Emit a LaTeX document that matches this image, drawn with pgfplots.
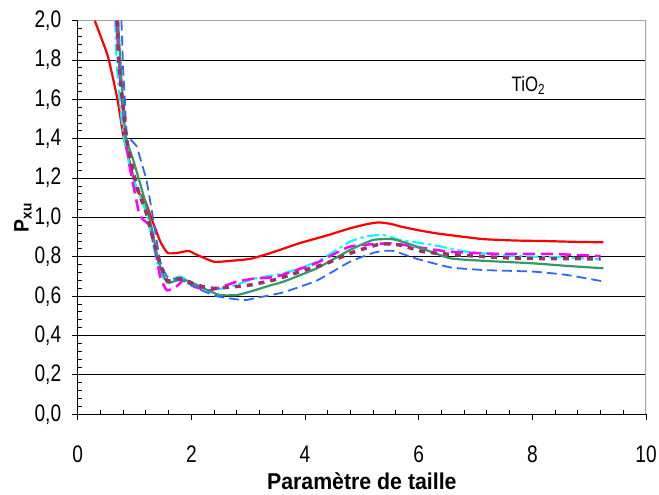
\documentclass[border=0pt]{standalone}
\usepackage{fontspec}
\setmainfont{Liberation Sans}[FakeStretch=0.8]
\newfontfamily\labfont{Liberation Sans}[FakeStretch=0.93]
\usepackage{pgfplots}
\pgfplotsset{compat=1.18}
\definecolor{cRed}{RGB}{255,0,0}
\definecolor{cGreen}{RGB}{51,153,102}
\definecolor{cBlue}{RGB}{51,102,255}
\definecolor{cCyan}{RGB}{0,255,255}
\definecolor{cMag}{RGB}{255,0,255}
\definecolor{cPur}{RGB}{153,51,102}
\begin{document}
\begin{tikzpicture}
\begin{axis}[name=ax, at={(0,0)}, anchor=south west,
  scale only axis, width=568.3bp, height=393.6bp,
  xmin=0, xmax=10, ymin=0, ymax=2,
  axis x line*=bottom, axis y line*=left,
  axis line style={black, line width=1.2bp, -},
  xtick={0,2,...,10}, ytick={0,0.2,...,2.01},
  minor x tick num=4, minor y tick num=4,
  tick align=outside, major tick length=6bp, minor tick length=-4.5bp,
  tick style={black, line width=1bp},
  ymajorgrids, grid style={black, line width=1.1bp},
  /pgf/number format/assume math mode=true,
  yticklabel style={/pgf/number format/fixed, /pgf/number format/fixed zerofill, /pgf/number format/precision=1, /pgf/number format/use comma, xshift=-7bp},
  ticklabel style={font=\fontsize{24}{26}\selectfont},
  xticklabel style={yshift=-22bp},
  xlabel={\labfont\bfseries Paramètre de taille},
  xlabel style={font=\fontsize{23}{25}\selectfont, yshift=-3bp},
  ylabel={\labfont\bfseries P\textsubscript{xu}},
  ylabel style={font=\fontsize{21}{22}\selectfont, yshift=-4bp},
  clip=true,
]
\draw[gray!70, line width=1.2bp] (rel axis cs:0,1) -- (rel axis cs:1,1) -- (rel axis cs:1,0);
% red
\addplot[cRed, line width=2.2bp, smooth, tension=0.3] coordinates {
(0.30,2.0) (0.53,1.82) (0.70,1.60) (0.80,1.42) (0.90,1.30) (1.04,1.14) (1.18,1.09) (1.28,1.01) (1.45,0.88) (1.58,0.82) (1.75,0.82) (1.95,0.83) (2.1,0.81) (2.4,0.775) (2.7,0.78) (3.04,0.79) (3.4,0.82) (3.91,0.87) (4.4,0.91) (4.79,0.945) (5.1,0.967) (5.3,0.975) (5.5,0.968) (5.7,0.953) (6.0,0.935) (6.3,0.92) (6.7,0.905) (7.14,0.89) (7.7,0.883) (8.26,0.88) (8.8,0.876) (9.25,0.874)};
% cyan
\addplot[cCyan, line width=2.2bp, dash pattern=on 12bp off 4bp on 3bp off 4bp, smooth, tension=0.3] coordinates {
(0.66,2.0) (0.69,1.77) (0.80,1.43) (0.95,1.22) (1.21,1.02) (1.39,0.78) (1.54,0.68) (1.80,0.70) (2.04,0.666) (2.33,0.63) (2.7,0.65) (3.12,0.69) (3.62,0.716) (4.21,0.775) (4.79,0.877) (5.1,0.905) (5.38,0.911) (5.67,0.886) (6.26,0.86) (6.85,0.826) (7.73,0.804) (8.61,0.797) (9.2,0.787)};
% magenta
\addplot[cMag, line width=2.5bp, dash pattern=on 12bp off 6bp, smooth, tension=0.3] coordinates {
(0.68,2.0) (0.75,1.7) (0.84,1.42) (0.92,1.25) (1.01,1.12) (1.08,1.02) (1.15,0.99) (1.26,0.96) (1.35,0.86) (1.45,0.70) (1.57,0.63) (1.74,0.65) (1.86,0.68) (2.04,0.65) (2.33,0.63) (2.8,0.674) (3.12,0.69) (3.5,0.70) (4.21,0.77) (4.79,0.852) (5.5,0.869) (5.97,0.85) (6.55,0.826) (7.43,0.815) (8.32,0.815) (9.2,0.804)};
% green
\addplot[cGreen, line width=2.2bp, smooth, tension=0.3] coordinates {
(0.71,2.0) (0.77,1.70) (0.84,1.42) (0.98,1.29) (1.15,1.12) (1.30,0.95) (1.42,0.78) (1.57,0.67) (1.74,0.68) (1.92,0.68) (2.21,0.64) (2.5,0.606) (2.8,0.606) (3.03,0.623) (3.39,0.655) (3.62,0.674) (4.21,0.742) (4.79,0.835) (5.2,0.886) (5.56,0.889) (5.97,0.852) (6.55,0.793) (7.14,0.78) (8.02,0.767) (8.61,0.754) (9.25,0.742)};
% blue
\addplot[cBlue, line width=1.8bp, dash pattern=on 10bp off 5bp, smooth, tension=0.3] coordinates {
(0.77,2.0) (0.80,1.75) (0.83,1.60) (0.86,1.43) (0.95,1.39) (1.04,1.36) (1.12,1.28) (1.21,1.19) (1.33,0.99) (1.45,0.78) (1.57,0.70) (1.67,0.69) (1.85,0.68) (2.1,0.64) (2.45,0.60) (2.92,0.58) (3.12,0.59) (3.62,0.62) (4.21,0.68) (4.79,0.775) (5.2,0.82) (5.38,0.83) (5.56,0.83) (5.97,0.79) (6.55,0.747) (7.14,0.733) (8.02,0.725) (8.61,0.708) (9.25,0.675)};
% purple
\addplot[cPur, line width=3.5bp, dash pattern=on 6bp off 6bp, smooth, tension=0.3] coordinates {
(0.70,2.0) (0.72,1.8) (0.86,1.40) (1.04,1.16) (1.21,1.02) (1.39,0.82) (1.57,0.68) (1.80,0.69) (2.10,0.657) (2.39,0.64) (3.03,0.657) (3.5,0.686) (3.91,0.725) (4.38,0.767) (4.79,0.818) (5.32,0.865) (5.67,0.86) (6.09,0.826) (6.67,0.81) (7.73,0.793) (9.2,0.79)};
\node[font=\fontsize{21}{22}\selectfont] at (axis cs:7.93,1.67) {TiO\textsubscript{2}};
\end{axis}
\pgfresetboundingbox
\path (-77.7bp,-80.7bp) rectangle (581.3bp,414.3bp);
\end{tikzpicture}
\end{document}
